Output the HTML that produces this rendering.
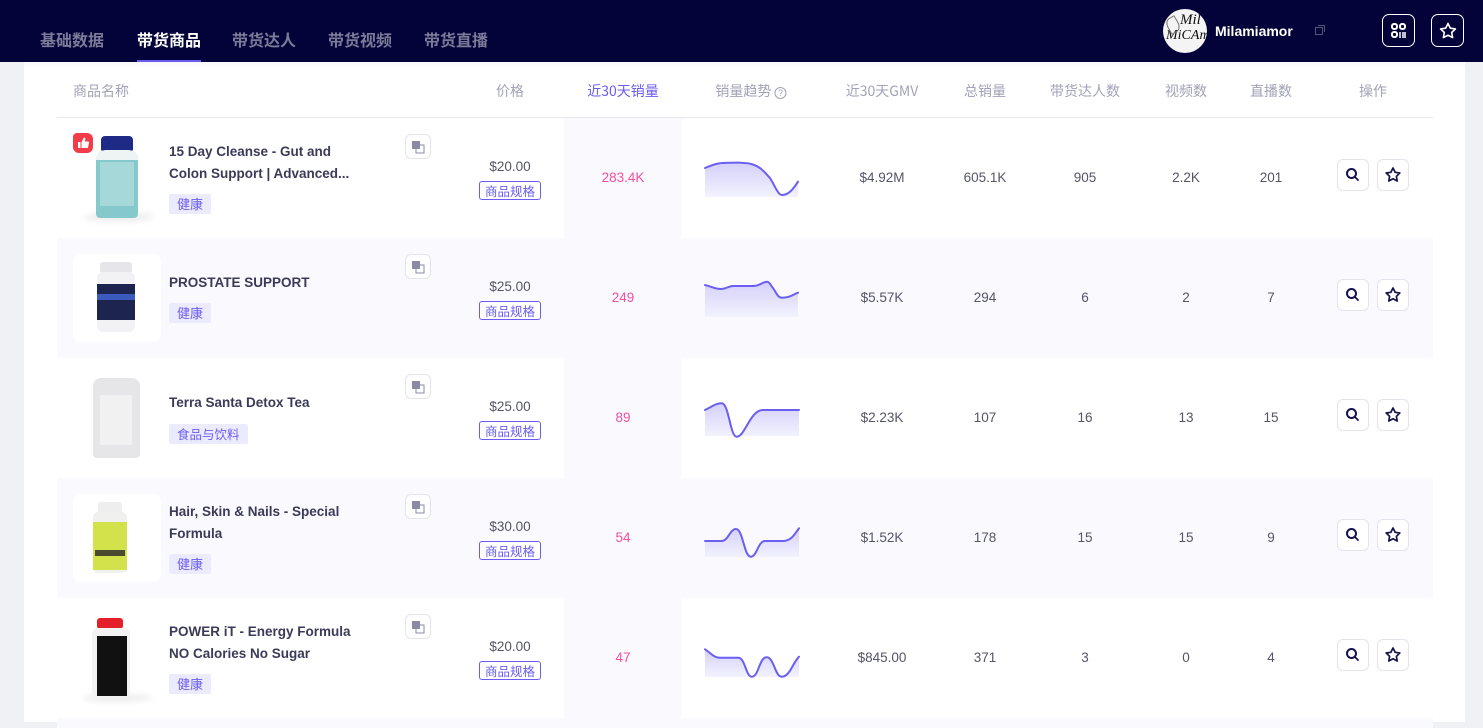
<!DOCTYPE html>
<html><head><meta charset="utf-8">
<style>
*{margin:0;padding:0;box-sizing:border-box}
body{width:1483px;height:722px;overflow:hidden;background:#f0f1f5;font-family:"Liberation Sans","Noto Sans CJK SC",sans-serif;position:relative}
.a{position:absolute}
.nav{left:0;top:0;width:1483px;height:62px;background:#03033a}
.tab{top:28px;font-size:16px;font-weight:bold;color:#7b7b98;font-family:"Noto Sans CJK SC",sans-serif;line-height:22px;letter-spacing:0}
.panel{left:24px;top:62px;width:1441px;height:660px;background:#fff}
.th{top:81px;font-size:14px;color:#a2a2b8;font-family:"Noto Sans CJK SC",sans-serif;line-height:20px;text-align:center;transform:translateX(-50%);white-space:nowrap}
.row{left:57px;width:1376px;height:120px}
.tint{background:#f9f9fe}
.title{left:169px;font-size:13.5px;font-weight:bold;color:#3b3a58;line-height:22px;white-space:nowrap}
.tag{left:169px;height:20px;padding:0 8px;background:#ebebfd;color:#6b5cf0;font-size:13px;line-height:20px;border-radius:2px;font-family:"Noto Sans CJK SC",sans-serif}
.tr{left:405px;width:26px;height:25px;border:1px solid #e4e4ee;border-radius:6px;background:#fff}
.price{left:470px;width:80px;text-align:center;font-size:13.5px;color:#555566;line-height:18px}
.spec{left:479px;width:62px;height:19px;border:1px solid #6b5cf0;border-radius:3px;color:#6b5cf0;font-size:12.5px;line-height:17px;text-align:center;font-family:"Noto Sans CJK SC",sans-serif;background:#fff}
.num{font-size:13.5px;color:#555566;line-height:18px;text-align:center;transform:translateX(-50%);white-space:nowrap}
.pink{color:#f0509f}
.btn{width:32px;height:32px;border:1px solid #e4e4ef;border-radius:6px;background:#fff}
.imgbox{left:73px;width:88px;height:88px;background:#fff;border-radius:8px}
</style></head><body>
<div class="a nav"></div>
<div class="a tab" style="left:40px">基础数据</div>
<div class="a tab" style="left:137px;color:#fff">带货商品</div>
<div class="a" style="left:137px;top:60px;width:64px;height:3px;background:#6b5cf0"></div>
<div class="a tab" style="left:232px">带货达人</div>
<div class="a tab" style="left:328px">带货视频</div>
<div class="a tab" style="left:424px">带货直播</div>
<!-- avatar -->
<div class="a" style="left:1163px;top:9px;width:44px;height:44px;border-radius:50%;background:#f4f4f4;overflow:hidden">
<div class="a" style="left:17px;top:3px;font-family:'Liberation Serif',serif;font-style:italic;font-size:15px;color:#111">Mil</div>
<div class="a" style="left:3px;top:19px;font-family:'Liberation Serif',serif;font-style:italic;font-size:14px;color:#111">MiCAm</div>
<div class="a" style="left:4px;top:8px;width:12px;height:16px;border:1px solid #777;border-radius:50% 0;transform:rotate(-30deg)"></div>
</div>
<div class="a" style="left:1215px;top:22px;font-size:14px;font-weight:bold;color:#fff;line-height:18px">Milamiamor</div>
<div class="a" style="left:1315px;top:27px;width:8px;height:8px;border:1px solid #55557a"></div>
<div class="a" style="left:1318px;top:25px;width:7px;height:7px;border-top:1px solid #55557a;border-right:1px solid #55557a"></div>
<div class="a" style="left:1382px;top:14px;width:33px;height:33px;border:1px solid #fff;border-radius:7px"></div>
<svg class="a" style="left:1390px;top:22px" width="18" height="18" viewBox="0 0 18 18"><rect x="2" y="2" width="5" height="5" rx="2" fill="none" stroke="#fff" stroke-width="2"/><rect x="10" y="2" width="5" height="5" rx="2" fill="none" stroke="#fff" stroke-width="2"/><rect x="2" y="10" width="5" height="5" rx="2" fill="none" stroke="#fff" stroke-width="2"/><path d="M10 10v6M13 10v6M15 10v6" stroke="#fff" stroke-width="1.5"/></svg>
<div class="a" style="left:1431px;top:14px;width:33px;height:33px;border:1px solid #fff;border-radius:7px"></div>
<svg class="a" style="left:1438px;top:21px" width="20" height="20" viewBox="0 0 20 20"><path d="M10 2.5l2.3 4.7 5.1.7-3.7 3.6.9 5.1L10 14.2l-4.6 2.4.9-5.1-3.7-3.6 5.1-.7z" fill="none" stroke="#fff" stroke-width="1.6" stroke-linejoin="round"/></svg>

<div class="a panel"></div>
<div class="a" style="left:24px;top:62px;width:1441px;height:4px;background:#fafafc"></div>
<!-- header -->
<div class="a th" style="left:101px">商品名称</div>
<div class="a th" style="left:510px">价格</div>
<div class="a th" style="left:623px;color:#6b5cf0">近30天销量</div>
<div class="a th" style="left:751px">销量趋势 <span style="display:inline-block;width:12px;height:12px;border:1px solid #a2a2b8;border-radius:50%;font-size:9px;line-height:10px;vertical-align:0px;font-family:'Liberation Sans',sans-serif">?</span></div>
<div class="a th" style="left:882px">近30天GMV</div>
<div class="a th" style="left:985px">总销量</div>
<div class="a th" style="left:1085px">带货达人数</div>
<div class="a th" style="left:1186px">视频数</div>
<div class="a th" style="left:1271px">直播数</div>
<div class="a th" style="left:1373px">操作</div>
<div class="a" style="left:57px;top:117px;width:1376px;height:1px;background:#e8e8ee"></div>

<!-- row backgrounds -->
<div class="a row" style="top:118px"></div>
<div class="a" style="left:564px;top:118px;width:118px;height:120px;background:#f9f9fe"></div>
<div class="a row tint" style="top:238px"></div>
<div class="a" style="left:564px;top:358px;width:118px;height:120px;background:#f9f9fe"></div>
<div class="a row tint" style="top:478px"></div>
<div class="a" style="left:564px;top:598px;width:118px;height:120px;background:#f9f9fe"></div>
<div class="a row tint" style="top:718px;height:10px"></div>

<!-- Row 1 images -->
<div class="a" style="left:84px;top:212px;width:70px;height:10px;border-radius:50%;background:#eee;filter:blur(3px)"></div>
<div class="a" style="left:101px;top:136px;width:32px;height:15px;background:#1f2a86;border-radius:4px 4px 2px 2px"></div>
<div class="a" style="left:96px;top:150px;width:42px;height:68px;background:#86c9cc;border-radius:10px 10px 4px 4px"></div>
<div class="a" style="left:96px;top:150px;width:42px;height:10px;background:#eef3f4;border-radius:10px 10px 0 0"></div>
<div class="a" style="left:100px;top:162px;width:34px;height:44px;background:#a6d8da"></div>
<div class="a" style="left:73px;top:133px;width:20px;height:20px;background:#f23c4a;border-radius:4px 6px 6px 6px"></div>
<svg class="a" style="left:76px;top:136px" width="14" height="14" viewBox="0 0 14 14"><path d="M2 6h2.5v6H2zM5.5 6l2.5-4.5c1 0 1.6.8 1.3 1.8L8.8 5.5H12c.7 0 1.1.6 1 1.2l-.9 4.6c-.1.5-.5.7-1 .7H5.5z" fill="#fff"/></svg>
<!-- Row 2 image -->
<div class="a imgbox" style="top:254px"></div>
<div class="a" style="left:100px;top:262px;width:32px;height:11px;background:#e6e6ea;border-radius:3px"></div>
<div class="a" style="left:97px;top:272px;width:38px;height:60px;background:#f2f2f4;border-radius:6px"></div>
<div class="a" style="left:97px;top:284px;width:38px;height:36px;background:#1e2450"></div>
<div class="a" style="left:97px;top:294px;width:38px;height:6px;background:#3a5bbd"></div>
<!-- Row 3 image -->
<div class="a" style="left:93px;top:378px;width:47px;height:80px;background:#e6e6e8;border-radius:8px 8px 4px 4px"></div>
<div class="a" style="left:100px;top:395px;width:32px;height:50px;background:#f1f1f2"></div>
<!-- Row 4 image -->
<div class="a imgbox" style="top:494px"></div>
<div class="a" style="left:98px;top:502px;width:24px;height:11px;background:#eeeeee;border-radius:3px"></div>
<div class="a" style="left:93px;top:512px;width:34px;height:61px;background:#f0f0ee;border-radius:5px"></div>
<div class="a" style="left:93px;top:522px;width:34px;height:48px;background:#d2e24a"></div>
<div class="a" style="left:95px;top:550px;width:30px;height:6px;background:#4a4a30"></div>
<!-- Row 5 image -->
<div class="a" style="left:82px;top:694px;width:70px;height:8px;border-radius:50%;background:#eee;filter:blur(3px)"></div>
<div class="a" style="left:97px;top:618px;width:26px;height:11px;background:#e32028;border-radius:3px"></div>
<div class="a" style="left:92px;top:628px;width:38px;height:70px;background:#f3f3f3;border-radius:6px"></div>
<div class="a" style="left:97px;top:636px;width:30px;height:60px;background:#111"></div>

<!-- titles & tags -->
<div class="a title" style="top:141px">15 Day Cleanse - Gut and<br>Colon Support | Advanced...</div>
<div class="a tag" style="top:194px">健康</div>
<div class="a title" style="top:272px">PROSTATE SUPPORT</div>
<div class="a tag" style="top:303px">健康</div>
<div class="a title" style="top:392px">Terra Santa Detox Tea</div>
<div class="a tag" style="top:424px;font-size:12.5px">食品与饮料</div>
<div class="a title" style="top:501px">Hair, Skin &amp; Nails - Special<br>Formula</div>
<div class="a tag" style="top:554px">健康</div>
<div class="a title" style="top:621px">POWER iT - Energy Formula<br>NO Calories No Sugar</div>
<div class="a tag" style="top:674px">健康</div>

<!-- translate icons -->
<div class="a tr" style="top:134px"></div>
<div class="a tr" style="top:254px"></div>
<div class="a tr" style="top:374px"></div>
<div class="a tr" style="top:494px"></div>
<div class="a tr" style="top:614px"></div>
<svg class="a" style="left:411px;top:140px" width="14" height="14" viewBox="0 0 14 14"><rect x="1" y="1" width="8" height="8" fill="#8a8aa6"/><rect x="5" y="5" width="8" height="8" fill="none" stroke="#8a8aa6"/></svg>
<svg class="a" style="left:411px;top:260px" width="14" height="14" viewBox="0 0 14 14"><rect x="1" y="1" width="8" height="8" fill="#8a8aa6"/><rect x="5" y="5" width="8" height="8" fill="none" stroke="#8a8aa6"/></svg>
<svg class="a" style="left:411px;top:380px" width="14" height="14" viewBox="0 0 14 14"><rect x="1" y="1" width="8" height="8" fill="#8a8aa6"/><rect x="5" y="5" width="8" height="8" fill="none" stroke="#8a8aa6"/></svg>
<svg class="a" style="left:411px;top:500px" width="14" height="14" viewBox="0 0 14 14"><rect x="1" y="1" width="8" height="8" fill="#8a8aa6"/><rect x="5" y="5" width="8" height="8" fill="none" stroke="#8a8aa6"/></svg>
<svg class="a" style="left:411px;top:620px" width="14" height="14" viewBox="0 0 14 14"><rect x="1" y="1" width="8" height="8" fill="#8a8aa6"/><rect x="5" y="5" width="8" height="8" fill="none" stroke="#8a8aa6"/></svg>

<!-- prices -->
<div class="a price" style="top:158px">$20.00</div>
<div class="a spec" style="top:181px">商品规格</div>
<div class="a price" style="top:278px">$25.00</div>
<div class="a spec" style="top:301px">商品规格</div>
<div class="a price" style="top:398px">$25.00</div>
<div class="a spec" style="top:421px">商品规格</div>
<div class="a price" style="top:518px">$30.00</div>
<div class="a spec" style="top:541px">商品规格</div>
<div class="a price" style="top:638px">$20.00</div>
<div class="a spec" style="top:661px">商品规格</div>

<!-- sales -->
<div class="a num pink" style="left:623px;top:169px">283.4K</div>
<div class="a num pink" style="left:623px;top:289px">249</div>
<div class="a num pink" style="left:623px;top:409px">89</div>
<div class="a num pink" style="left:623px;top:529px">54</div>
<div class="a num pink" style="left:623px;top:649px">47</div>

<!-- sparklines -->
<svg class="a" style="left:0;top:0" width="1483" height="722">
<defs><linearGradient id="g" x1="0" y1="0" x2="0" y2="1"><stop offset="0" stop-color="#d4d0fa"/><stop offset="1" stop-color="#f3f2fe"/></linearGradient></defs>
<g fill="url(#g)" stroke="none">
<path d="M705 168 C719 162,722 163,733 162.7 C740 162.5,744 163,744 163 C752 163,757 166,760 168 C765 172,767 175,770 178 C775 186,778 195,782 195 C790 195,795 186,798 181.7 L798 197 L705 197Z"/>
<path d="M705 285 C713 287,715 289,721 289 C727 289,728 286,733 286 C743 286,743 286,753 286 C760 286,762 282,767 281.7 C770 282,771 286,773 288 C777 294,778 297.7,782 297.7 C790 297.7,792 295,798 292.7 L798 317 L705 317Z"/>
<path d="M705 410 C713 406,716 403.3,721.7 403.3 C729 403.3,730 436.7,736.7 436.7 C745 436.7,750 410,763 410 L799 410 L799 436 L705 436Z"/>
<path d="M705 541 L721.7 541 C728 541,730 529,736 529 C743 529,744 556.7,750.7 556.7 C757 556.7,758 541,765 541 L783 541 C792 541,795 533,799 528.3 L799 557 L705 557Z"/>
<path d="M705 649.3 C712 654,714 657.7,720 657.7 L738.3 657.7 C745 657.7,746 676.7,751.7 676.7 C759 676.7,759 657.3,766.7 657.3 C774 657.3,775 676.7,781.7 676.7 C790 676.7,793 662,799 656.7 L799 677 L705 677Z"/>
</g>
<g fill="none" stroke="#6b5ef0" stroke-width="2" stroke-linecap="round">
<path d="M705 168 C719 162,722 163,733 162.7 C740 162.5,744 163,744 163 C752 163,757 166,760 168 C765 172,767 175,770 178 C775 186,778 195,782 195 C790 195,795 186,798 181.7"/>
<path d="M705 285 C713 287,715 289,721 289 C727 289,728 286,733 286 C743 286,743 286,753 286 C760 286,762 282,767 281.7 C770 282,771 286,773 288 C777 294,778 297.7,782 297.7 C790 297.7,792 295,798 292.7"/>
<path d="M705 410 C713 406,716 403.3,721.7 403.3 C729 403.3,730 436.7,736.7 436.7 C745 436.7,750 410,763 410 L799 410"/>
<path d="M705 541 L721.7 541 C728 541,730 529,736 529 C743 529,744 556.7,750.7 556.7 C757 556.7,758 541,765 541 L783 541 C792 541,795 533,799 528.3"/>
<path d="M705 649.3 C712 654,714 657.7,720 657.7 L738.3 657.7 C745 657.7,746 676.7,751.7 676.7 C759 676.7,759 657.3,766.7 657.3 C774 657.3,775 676.7,781.7 676.7 C790 676.7,793 662,799 656.7"/>
</g>
</svg>

<!-- other columns -->
<div class="a num" style="left:882px;top:169px">$4.92M</div>
<div class="a num" style="left:985px;top:169px">605.1K</div>
<div class="a num" style="left:1085px;top:169px">905</div>
<div class="a num" style="left:1186px;top:169px">2.2K</div>
<div class="a num" style="left:1271px;top:169px">201</div>

<div class="a num" style="left:882px;top:289px">$5.57K</div>
<div class="a num" style="left:985px;top:289px">294</div>
<div class="a num" style="left:1085px;top:289px">6</div>
<div class="a num" style="left:1186px;top:289px">2</div>
<div class="a num" style="left:1271px;top:289px">7</div>

<div class="a num" style="left:882px;top:409px">$2.23K</div>
<div class="a num" style="left:985px;top:409px">107</div>
<div class="a num" style="left:1085px;top:409px">16</div>
<div class="a num" style="left:1186px;top:409px">13</div>
<div class="a num" style="left:1271px;top:409px">15</div>

<div class="a num" style="left:882px;top:529px">$1.52K</div>
<div class="a num" style="left:985px;top:529px">178</div>
<div class="a num" style="left:1085px;top:529px">15</div>
<div class="a num" style="left:1186px;top:529px">15</div>
<div class="a num" style="left:1271px;top:529px">9</div>

<div class="a num" style="left:882px;top:649px">$845.00</div>
<div class="a num" style="left:985px;top:649px">371</div>
<div class="a num" style="left:1085px;top:649px">3</div>
<div class="a num" style="left:1186px;top:649px">0</div>
<div class="a num" style="left:1271px;top:649px">4</div>

<!-- action buttons -->
<div class="a btn" style="left:1337px;top:159px"></div><div class="a btn" style="left:1377px;top:159px"></div>
<div class="a btn" style="left:1337px;top:279px"></div><div class="a btn" style="left:1377px;top:279px"></div>
<div class="a btn" style="left:1337px;top:399px"></div><div class="a btn" style="left:1377px;top:399px"></div>
<div class="a btn" style="left:1337px;top:519px"></div><div class="a btn" style="left:1377px;top:519px"></div>
<div class="a btn" style="left:1337px;top:639px"></div><div class="a btn" style="left:1377px;top:639px"></div>
<svg class="a" style="left:0;top:0" width="1483" height="722">
<defs>
<g id="s"><circle cx="-0.5" cy="-0.5" r="4.5" fill="none" stroke="#14144a" stroke-width="2"/><path d="M3 3l3 3" stroke="#14144a" stroke-width="1.8" stroke-linecap="round"/></g>
<g id="st"><path d="M0 -7l2.1 4.3 4.7.7-3.4 3.3.8 4.7L0 3.8-4.2 6l.8-4.7-3.4-3.3 4.7-.7z" fill="none" stroke="#14144a" stroke-width="1.7" stroke-linejoin="round"/></g>
</defs>
<use href="#s" x="1352" y="174"/><use href="#st" x="1393" y="175"/>
<use href="#s" x="1352" y="294"/><use href="#st" x="1393" y="295"/>
<use href="#s" x="1352" y="414"/><use href="#st" x="1393" y="415"/>
<use href="#s" x="1352" y="534"/><use href="#st" x="1393" y="535"/>
<use href="#s" x="1352" y="654"/><use href="#st" x="1393" y="655"/>
</svg>
</body></html>
